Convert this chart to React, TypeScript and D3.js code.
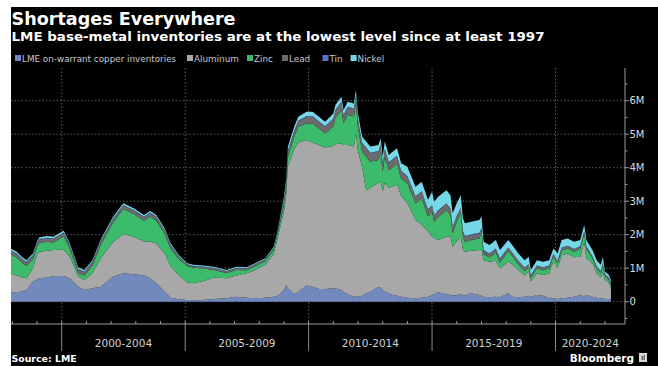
import React from "react";
import * as d3 from "d3";

const dates = [
  "1997-12", "1998-03", "1998-06", "1998-08", "1998-11",
  "1999-01", "1999-02", "1999-06", "1999-09", "1999-12",
  "2000-02", "2000-05", "2000-09", "2000-12",
  "2001-04", "2001-08",
  "2002-02", "2002-07", "2002-12",
  "2003-05", "2003-08", "2003-11",
  "2004-03", "2004-06", "2004-10",
  "2005-02", "2005-05", "2005-10",
  "2006-03", "2006-09",
  "2007-02", "2007-07", "2007-11",
  "2008-04", "2008-08", "2008-10",
  "2009-01", "2009-02", "2009-03", "2009-06", "2009-08", "2009-12",
  "2010-03", "2010-06", "2010-09",
  "2011-01", "2011-02", "2011-05", "2011-06", "2011-08", "2011-11", "2011-12",
  "2012-01", "2012-03", "2012-05", "2012-07", "2012-11", "2012-12",
  "2013-01", "2013-02", "2013-04", "2013-06", "2013-08", "2013-10",
  "2014-01", "2014-05", "2014-08", "2014-11",
  "2015-01", "2015-02", "2015-04", "2015-08", "2015-10", "2015-11",
  "2016-01", "2016-03", "2016-04", "2016-05", "2016-08", "2016-12",
  "2017-01", "2017-02", "2017-05", "2017-08", "2017-10",
  "2018-02", "2018-04", "2018-07", "2018-10", "2018-12",
  "2019-01", "2019-04", "2019-07", "2019-10", "2019-12",
  "2020-02", "2020-04", "2020-07", "2020-10",
  "2021-01", "2021-03", "2021-04", "2021-07", "2021-09", "2021-11", "2021-12",
  "2022-01", "2022-03", "2022-04",
];

// million tonnes
const copper = [
  0.30, 0.26, 0.32, 0.35, 0.60,
  0.66, 0.70, 0.72, 0.76, 0.77,
  0.77, 0.70, 0.45, 0.35,
  0.40, 0.45,
  0.75, 0.85, 0.82,
  0.78, 0.70, 0.55,
  0.30, 0.12, 0.07,
  0.05, 0.04, 0.05,
  0.08, 0.10,
  0.15, 0.12, 0.10,
  0.12, 0.15, 0.18,
  0.35, 0.50, 0.40, 0.22, 0.30, 0.48,
  0.45, 0.38, 0.38,
  0.40, 0.40, 0.35, 0.30, 0.22, 0.15, 0.15,
  0.15, 0.18, 0.25, 0.30, 0.45, 0.42,
  0.35, 0.30, 0.25, 0.20, 0.18, 0.15,
  0.12, 0.10, 0.12, 0.15,
  0.20, 0.22, 0.28, 0.22, 0.20, 0.18,
  0.20, 0.22, 0.20, 0.18, 0.25, 0.20,
  0.18, 0.15, 0.13, 0.15, 0.13,
  0.25, 0.15, 0.13, 0.15, 0.18,
  0.15, 0.20, 0.18, 0.10, 0.10,
  0.08, 0.10, 0.12, 0.15,
  0.20, 0.15, 0.20, 0.15, 0.12, 0.10, 0.10,
  0.08, 0.08, 0.06,
];

const aluminum = [
  0.55, 0.52, 0.40, 0.35, 0.40,
  0.74, 0.79, 0.80, 0.78, 0.78,
  0.77, 0.64, 0.30, 0.30,
  0.45, 0.85,
  1.04, 1.17, 1.12,
  1.02, 1.09, 1.19,
  1.15, 0.93, 0.71,
  0.53, 0.51, 0.57,
  0.64, 0.60,
  0.63, 0.73, 0.85,
  0.98, 1.27, 1.72,
  2.35, 2.65, 3.65, 4.33, 4.45, 4.35,
  4.30, 4.30, 4.22,
  4.25, 4.30, 4.38, 4.38, 4.46, 4.48, 4.88,
  4.35, 3.85, 3.08, 3.10, 3.10, 3.16,
  2.95, 3.25, 3.15, 3.25, 3.32, 3.00,
  2.82, 2.35, 2.18, 1.95,
  1.74, 1.68, 1.56, 1.72, 1.74, 1.46,
  1.60, 1.72, 1.35, 1.31, 1.27, 1.34,
  1.37, 1.09, 1.06, 1.07, 0.87,
  0.94, 0.97, 0.82, 0.63, 0.72,
  0.45, 0.65, 0.62, 0.75, 1.10,
  0.92, 1.29, 1.32, 1.18,
  1.14, 1.63, 1.10, 1.00, 0.73, 0.62, 0.78,
  0.57, 0.48, 0.36,
];

const zinc = [
  0.57, 0.55, 0.43, 0.37, 0.27,
  0.23, 0.26, 0.27, 0.23, 0.33,
  0.41, 0.23, 0.11, 0.13,
  0.22, 0.39,
  0.58, 0.75, 0.68,
  0.62, 0.75, 0.68,
  0.58, 0.52, 0.49,
  0.48, 0.46, 0.37,
  0.23, 0.16,
  0.17, 0.09, 0.11,
  0.11, 0.13, 0.15,
  0.19, 0.24, 0.28, 0.37, 0.47, 0.49,
  0.57, 0.49, 0.42,
  0.58, 0.78, 1.00, 0.65, 0.90, 0.90, 0.90,
  0.67, 0.45, 1.00, 0.78, 0.68, 0.85,
  0.57, 0.77, 0.52, 0.57, 0.62, 0.52,
  0.59, 0.48, 0.78, 0.44,
  0.74, 0.48, 0.69, 0.79, 0.64, 0.40,
  0.59, 0.69, 0.39, 0.30, 0.32, 0.35,
  0.50, 0.18, 0.13, 0.25, 0.17,
  0.32, 0.24, 0.16, 0.13, 0.11,
  0.10, 0.14, 0.14, 0.14, 0.14,
  0.13, 0.14, 0.14, 0.15,
  0.24, 0.25, 0.28, 0.13, 0.13, 0.12, 0.20,
  0.10, 0.09, 0.08,
];

const lead = [
  0.10, 0.10, 0.10, 0.10, 0.10,
  0.10, 0.10, 0.10, 0.10, 0.10,
  0.10, 0.10, 0.10, 0.10,
  0.10, 0.10,
  0.10, 0.10, 0.10,
  0.10, 0.10, 0.10,
  0.10, 0.10, 0.07,
  0.05, 0.05, 0.05,
  0.05, 0.05,
  0.05, 0.05, 0.05,
  0.05, 0.05, 0.05,
  0.12, 0.12, 0.16, 0.16, 0.16, 0.20,
  0.20, 0.20, 0.20,
  0.22, 0.22, 0.22, 0.22, 0.22, 0.22, 0.22,
  0.25, 0.25, 0.25, 0.25, 0.25, 0.25,
  0.22, 0.22, 0.22, 0.22, 0.22, 0.22,
  0.20, 0.20, 0.20, 0.20,
  0.18, 0.18, 0.18, 0.18, 0.18, 0.18,
  0.15, 0.15, 0.15, 0.15, 0.15, 0.15,
  0.12, 0.10, 0.10, 0.10, 0.10,
  0.10, 0.10, 0.10, 0.10, 0.10,
  0.08, 0.08, 0.08, 0.08, 0.08,
  0.08, 0.08, 0.08, 0.08,
  0.07, 0.07, 0.07, 0.07, 0.07, 0.07, 0.07,
  0.06, 0.06, 0.06,
];

const tin = [
  0.02, 0.02, 0.02, 0.02, 0.02,
  0.02, 0.02, 0.02, 0.02, 0.02,
  0.02, 0.02, 0.02, 0.02,
  0.02, 0.02,
  0.02, 0.02, 0.02,
  0.02, 0.02, 0.02,
  0.02, 0.02, 0.01,
  0.01, 0.01, 0.01,
  0.01, 0.01,
  0.01, 0.01, 0.01,
  0.01, 0.01, 0.01,
  0.02, 0.02, 0.02, 0.02, 0.02, 0.02,
  0.02, 0.02, 0.02,
  0.02, 0.02, 0.02, 0.02, 0.02, 0.02, 0.02,
  0.02, 0.02, 0.02, 0.02, 0.02, 0.02,
  0.02, 0.02, 0.02, 0.02, 0.02, 0.02,
  0.02, 0.02, 0.02, 0.02,
  0.02, 0.02, 0.02, 0.02, 0.02, 0.02,
  0.02, 0.02, 0.02, 0.02, 0.02, 0.02,
  0.02, 0.02, 0.02, 0.02, 0.02,
  0.01, 0.01, 0.01, 0.01, 0.01,
  0.01, 0.01, 0.01, 0.01, 0.01,
  0.01, 0.01, 0.01, 0.01,
  0.01, 0.01, 0.01, 0.01, 0.01, 0.01, 0.01,
  0.01, 0.01, 0.01,
];

const nickel = [
  0.05, 0.05, 0.05, 0.05, 0.05,
  0.05, 0.05, 0.05, 0.05, 0.05,
  0.05, 0.05, 0.05, 0.05,
  0.05, 0.05,
  0.05, 0.05, 0.05,
  0.05, 0.05, 0.05,
  0.05, 0.05, 0.04,
  0.03, 0.03, 0.03,
  0.03, 0.03,
  0.03, 0.03, 0.03,
  0.03, 0.03, 0.03,
  0.10, 0.10, 0.12, 0.12, 0.12, 0.13,
  0.13, 0.13, 0.13,
  0.15, 0.15, 0.15, 0.15, 0.15, 0.15, 0.15,
  0.18, 0.18, 0.18, 0.18, 0.18, 0.18,
  0.22, 0.22, 0.22, 0.22, 0.22, 0.22,
  0.28, 0.28, 0.28, 0.28,
  0.40, 0.40, 0.40, 0.40, 0.40, 0.40,
  0.38, 0.38, 0.38, 0.38, 0.38, 0.38,
  0.35, 0.25, 0.25, 0.25, 0.25,
  0.22, 0.22, 0.22, 0.22, 0.22,
  0.16, 0.16, 0.16, 0.16, 0.16,
  0.22, 0.22, 0.22, 0.22,
  0.18, 0.18, 0.18, 0.18, 0.18, 0.18, 0.18,
  0.08, 0.08, 0.08,
];

const seriesKeys = ["copper", "aluminum", "zinc", "lead", "tin", "nickel"];
const legendLabels = [
  "LME on-warrant copper inventories",
  "Aluminum",
  "Zinc",
  "Lead",
  "Tin",
  "Nickel",
];
const colors = ["#7189bd", "#a8a8a8", "#3dbb6d", "#6b6b6b", "#5a72c4", "#74d8e8"];
const yTicks = [0, 1, 2, 3, 4, 5, 6];
const periodStarts = [2000, 2005, 2010, 2015, 2020];
const periodLabels = ["2000-2004", "2005-2009", "2010-2014", "2015-2019", "2020-2024"];

const TITLE = "Shortages Everywhere";
const SUBTITLE = "LME base-metal inventories are at the lowest level since at least 1997";

export default function App() {
  const W = 658;
  const H = 366;
  const left = 11;
  const right = 625;
  const top = 68;
  const bottom = 324;
  const font = "'DejaVu Sans', sans-serif";

  const parse = d3.timeParse("%Y-%m");
  const x = d3
    .scaleTime()
    .domain([new Date(2000, 0, 1), new Date(2020, 0, 1)])
    .range([61.7, 555.5]);
  const y = d3.scaleLinear().domain([0, 6]).range([301.7, 100.7]);

  const valuesBy: Record<string, number[]> = { copper, aluminum, zinc, lead, tin, nickel };
  const rows = dates.map((d, i) => {
    const r: any = { date: parse(d) };
    seriesKeys.forEach((k) => (r[k] = valuesBy[k][i]));
    return r;
  });
  const stacked = d3.stack<any>().keys(seriesKeys)(rows);
  const area = d3
    .area<any>()
    .x((d) => x(d.data.date))
    .y0((d) => y(d[0]))
    .y1((d) => y(d[1]));

  const minorTicks = d3.range(-0.5, 7, 0.5).filter((v) => y(v) >= top && y(v) <= bottom);
  const yearTicks = d3.range(1998, 2023).map((yr) => new Date(yr, 0, 1));
  const legendX = [15, 187, 247, 282, 322.5, 350.6];

  return (
    <svg
      width={W}
      height={H}
      style={{ position: "absolute", left: 0, top: 0, display: "block" }}
      fontFamily={font}
    >
      <rect x={0} y={0} width={W} height={H} fill="#ffffff" />
      <rect x={left} y={7} width={W - left} height={H - 7} fill="#000000" />
      <defs>
        <clipPath id="plotclip">
          <rect x={left} y={top} width={right - left} height={bottom - top} />
        </clipPath>
      </defs>

      {/* titles */}
      <text x={11.5} y={25} fill="#ffffff" fontWeight="bold" fontSize={17.5} textLength={224} lengthAdjust="spacingAndGlyphs">
        {TITLE}
      </text>
      <text x={11.5} y={41} fill="#ffffff" fontWeight="bold" fontSize={12} textLength={533} lengthAdjust="spacingAndGlyphs">
        {SUBTITLE}
      </text>

      {/* legend */}
      {legendLabels.map((lab, i) => (
        <g key={lab}>
          <rect x={legendX[i]} y={55} width={6} height={6} fill={colors[i]} />
          <text x={legendX[i] + 7} y={61.5} fill="#c8c8c8" fontSize={8.8}>
            {lab}
          </text>
        </g>
      ))}

      {/* grid */}
      {yTicks.map((v) => (
        <line key={"h" + v} x1={left} x2={right} y1={y(v)} y2={y(v)} stroke="#5c5c5c" strokeWidth={1} strokeDasharray="1.5,2" />
      ))}
      {periodStarts.map((yr) => (
        <line
          key={"v" + yr}
          x1={x(new Date(yr, 0, 1))}
          x2={x(new Date(yr, 0, 1))}
          y1={top}
          y2={bottom}
          stroke="#5c5c5c"
          strokeWidth={1}
          strokeDasharray="1.5,2"
        />
      ))}

      {/* stacked areas */}
      <g clipPath="url(#plotclip)">
        {stacked.map((s, i) => (
          <path key={s.key} d={area(s) || ""} fill={colors[i]} />
        ))}
      </g>

      {/* right axis */}
      <line x1={right} x2={right} y1={top} y2={bottom} stroke="#9a9a9a" />
      {minorTicks.map((v) => (
        <line key={"t" + v} x1={right} x2={right + (Number.isInteger(v) ? 4 : 2.5)} y1={y(v)} y2={y(v)} stroke="#9a9a9a" />
      ))}
      {yTicks.map((v) => (
        <text key={"l" + v} x={right + 4.5} y={y(v)} dy="0.35em" fill="#dcdcdc" fontSize={10}>
          {v === 0 ? "0" : v + "M"}
        </text>
      ))}

      {/* bottom axis */}
      <line x1={left} x2={right} y1={bottom} y2={bottom} stroke="#9a9a9a" />
      {yearTicks.map((d) => (
        <line key={"yt" + d.getFullYear()} x1={x(d)} x2={x(d)} y1={bottom - 3} y2={bottom} stroke="#9a9a9a" />
      ))}
      {periodStarts.map((yr) => (
        <line
          key={"s" + yr}
          x1={x(new Date(yr, 0, 1))}
          x2={x(new Date(yr, 0, 1))}
          y1={bottom}
          y2={351}
          stroke="#8a8a8a"
        />
      ))}
      {periodLabels.map((lab, i) => {
        const a = x(new Date(periodStarts[i], 0, 1));
        const b = Math.min(x(new Date(periodStarts[i] + 5, 0, 1)), right);
        return (
          <text key={lab} x={(a + b) / 2} y={347} textAnchor="middle" fill="#d2d2d2" fontSize={10.5}>
            {lab}
          </text>
        );
      })}

      {/* footer */}
      <text x={11.5} y={362} fill="#ffffff" fontWeight="bold" fontSize={9.4}>
        Source: LME
      </text>
      <text x={634} y={362} textAnchor="end" fill="#ffffff" fontWeight="bold" fontSize={10.5}>
        Bloomberg
      </text>
      <rect x={639} y={353} width={8} height={9} fill="#d8d8d8" />
      <rect x={641.5} y={356} width={1.5} height={4} fill="#666" />
      <rect x={643.5} y={355} width={1.5} height={5} fill="#666" />
    </svg>
  );
}
